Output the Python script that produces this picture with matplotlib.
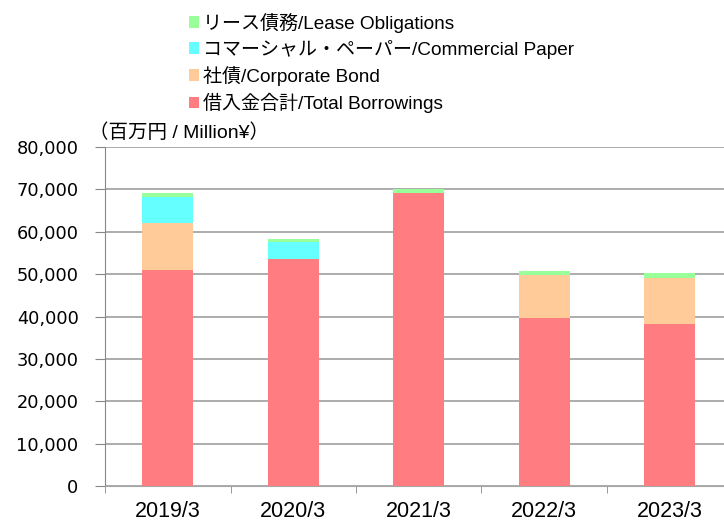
import matplotlib.pyplot as plt
import numpy as np

plt.rcParams['font.family'] = ['Liberation Sans', 'Noto Sans CJK JP']

# データ（百万円）
years = ['2019/3', '2020/3', '2021/3', '2022/3', '2023/3']
borrowings = [50900, 53500, 69200, 39600, 38200]   # 借入金合計
bond = [11100, 0, 0, 10100, 10900]                 # 社債
cp = [6200, 4000, 0, 0, 0]                         # コマーシャル・ペーパー
lease = [900, 900, 800, 1000, 1100]                # リース債務

labels = ['借入金合計/Total Borrowings', '社債/Corporate Bond',
          'コマーシャル・ペーパー/Commercial Paper', 'リース債務/Lease Obligations']
colors = ['#FF7C80', '#FFCC99', '#66FFFF', '#99FF99']

fig = plt.figure(figsize=(7.24, 5.22), dpi=100)
ax = fig.add_axes([105 / 724, 36 / 522, 627.5 / 724, 339 / 522])

x = np.arange(len(years))
bottom = np.zeros(len(years))
handles = []
for vals, lab, c in zip([borrowings, bond, cp, lease], labels, colors):
    b = ax.bar(x, vals, 0.41, bottom=bottom, color=c, label=lab, zorder=3)
    handles.append(b)
    bottom += np.array(vals)

ax.set_xlim(-0.5, len(years) - 0.5)
ax.set_ylim(0, 80000)
ax.set_yticks(np.arange(0, 80001, 10000))
ax.set_yticklabels([f'{v:,}' for v in range(0, 80001, 10000)],
                   fontsize=12.8, family='DejaVu Sans')
ax.set_xticks(x)
ax.set_xticklabels(years, fontsize=15.5)
ax.set_xticks(np.arange(-0.5, len(years)), minor=True)
ax.tick_params(axis='x', which='major', length=0, pad=11)
ax.tick_params(axis='x', which='minor', length=5, color='#888888')
ax.tick_params(axis='y', length=7, color='#888888', pad=12)
ax.grid(axis='y', color='#a6a6a6', linewidth=1.3, zorder=0)
for s in ['top', 'right']:
    ax.spines[s].set_visible(False)
ax.spines['left'].set_color('#888888')
ax.spines['bottom'].set_color('#a6a6a6')

fig.text(89 / 724, 1 - 133 / 522, '（百万円 / Million¥）', fontsize=14, va='center')

fig.legend(handles[::-1], labels[::-1], loc='upper left',
           bbox_to_anchor=(179 / 724, 1 - 3 / 522), frameon=False,
           fontsize=13.7, handlelength=0.55, handleheight=0.55,
           handletextpad=0.2, labelspacing=0.38, borderpad=0)

fig.savefig('out.png', dpi=100)
